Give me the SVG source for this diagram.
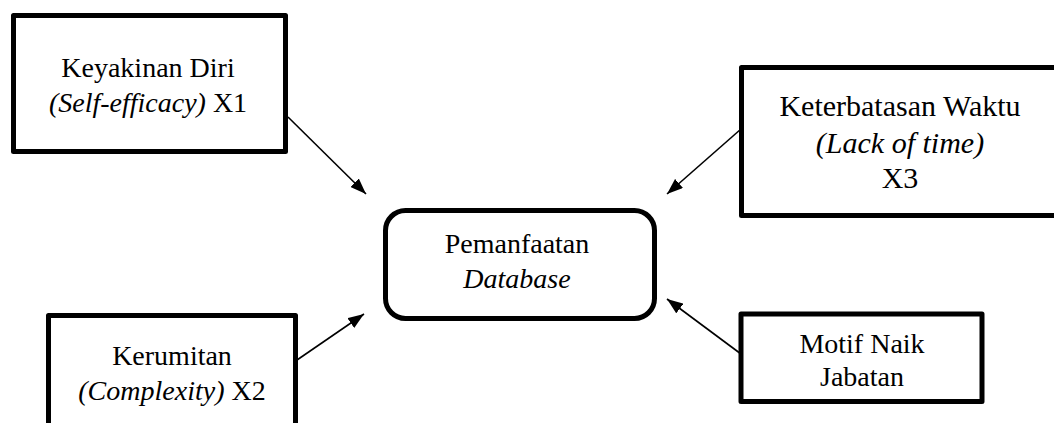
<svg xmlns="http://www.w3.org/2000/svg" width="1054" height="423" viewBox="0 0 1054 423">
<style>
.box{fill:#fff;stroke:#000;stroke-width:5;stroke-linejoin:round}
text{font-family:'Liberation Serif','Times New Roman','DejaVu Serif',serif;font-size:28px;fill:#000;text-anchor:middle}
.big{font-size:30px}
.i{font-style:italic}
.c{stroke:#000;stroke-width:1.6;fill:none;marker-end:url(#ah)}
</style>
<defs>
<marker id="ah" viewBox="0 0 16 12" refX="16" refY="6" markerWidth="16" markerHeight="12" markerUnits="userSpaceOnUse" orient="auto">
<path d="M0,0 L16,6 L0,12 z" fill="#000"/>
</marker>
</defs>
<rect width="1054" height="423" fill="#fff"/>
<g id="connectors">
<line class="c" x1="288" y1="117" x2="366" y2="194"/>
<line class="c" x1="297" y1="360" x2="364" y2="314"/>
<line class="c" x1="741" y1="129" x2="667" y2="194"/>
<line class="c" x1="741" y1="354" x2="667" y2="299"/>
</g>
<g id="n1">
<rect class="box" x="13.5" y="15.5" width="272" height="136"/>
<text x="148" y="77">Keyakinan Diri</text>
<text x="148" y="112"><tspan class="i">(Self-efficacy)</tspan> X1</text>
</g>
<g id="n2">
<rect class="box" x="48.5" y="315.5" width="247" height="200"/>
<text x="172" y="365">Kerumitan</text>
<text x="172" y="400"><tspan class="i">(Complexity)</tspan> X2</text>
</g>
<g id="n3">
<rect class="box" x="741.5" y="67.5" width="330" height="148"/>
<text class="big" x="900" y="116">Keterbatasan Waktu</text>
<text class="big i" x="900" y="153">(Lack of time)</text>
<text class="big" x="900" y="188">X3</text>
</g>
<g id="n4">
<rect class="box" x="741" y="314" width="241" height="87.5"/>
<text x="862" y="353">Motif Naik</text>
<text x="862" y="386">Jabatan</text>
</g>
<g id="center">
<rect class="box" x="385.5" y="210.5" width="269" height="108" rx="20" ry="20"/>
<text x="517" y="253">Pemanfaatan</text>
<text class="i" x="517" y="288">Database</text>
</g>
</svg>
